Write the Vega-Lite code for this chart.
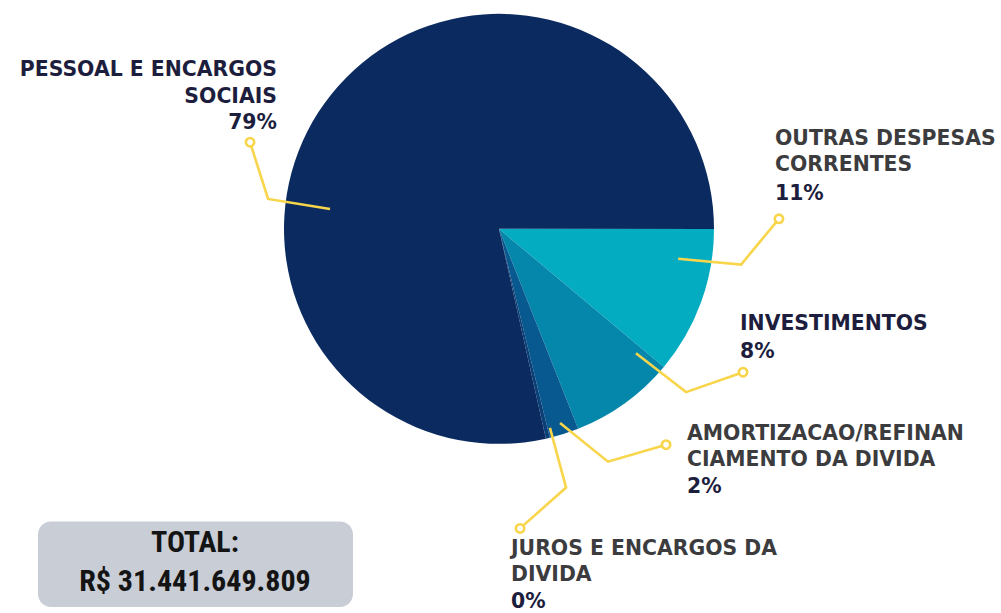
{
  "$schema": "https://vega.github.io/schema/vega-lite/v6.json",
  "width": 1001,
  "height": 613,
  "padding": 0,
  "autosize": {"type": "fit", "contains": "padding"},
  "background": "white",
  "config": {"view": {"stroke": null}},
  "datasets": {
    "slices": [
      {"categoria": "OUTRAS DESPESAS CORRENTES", "pct": 11.1, "ordem": 1, "cx": 0, "cy": 0},
      {"categoria": "INVESTIMENTOS", "pct": 7.9, "ordem": 2, "cx": 0, "cy": 0},
      {"categoria": "AMORTIZACAO/REFINANCIAMENTO DA DIVIDA", "pct": 2.2, "ordem": 3, "cx": 0, "cy": 0},
      {"categoria": "JUROS E ENCARGOS DA DIVIDA", "pct": 0.3, "ordem": 4, "cx": 0, "cy": 0},
      {"categoria": "PESSOAL E ENCARGOS SOCIAIS", "pct": 78.5, "ordem": 5, "cx": 0, "cy": 0}
    ],
    "leaders": [
      {"g": "pessoal", "s": 1, "u": -0.786, "v": 0.093},
      {"g": "pessoal", "s": 2, "u": -1.074, "v": 0.140},
      {"g": "pessoal", "s": 3, "u": -1.158, "v": 0.405},
      {"g": "outras", "s": 1, "u": 0.833, "v": -0.140},
      {"g": "outras", "s": 2, "u": 1.126, "v": -0.167},
      {"g": "outras", "s": 3, "u": 1.302, "v": 0.047},
      {"g": "invest", "s": 1, "u": 0.637, "v": -0.581},
      {"g": "invest", "s": 2, "u": 0.870, "v": -0.763},
      {"g": "invest", "s": 3, "u": 1.135, "v": -0.670},
      {"g": "amort", "s": 1, "u": 0.284, "v": -0.907},
      {"g": "amort", "s": 2, "u": 0.507, "v": -1.088},
      {"g": "amort", "s": 3, "u": 0.777, "v": -1.009},
      {"g": "juros", "s": 1, "u": 0.237, "v": -0.930},
      {"g": "juros", "s": 2, "u": 0.312, "v": -1.209},
      {"g": "juros", "s": 3, "u": 0.098, "v": -1.400}
    ],
    "labels": [
      {"t": "PESSOAL E ENCARGOS\nSOCIAIS", "u": -1.0326, "v": 0.7163, "side": "right", "tone": "navy"},
      {"t": "79%", "u": -1.0326, "v": 0.4651, "side": "right", "tone": "navy"},
      {"t": "OUTRAS DESPESAS\nCORRENTES", "u": 1.2837, "v": 0.3907, "side": "left", "tone": "gray"},
      {"t": "11%", "u": 1.2837, "v": 0.1349, "side": "left", "tone": "navy"},
      {"t": "INVESTIMENTOS", "u": 1.1209, "v": -0.4744, "side": "left", "tone": "navy"},
      {"t": "8%", "u": 1.1209, "v": -0.6047, "side": "left", "tone": "navy"},
      {"t": "AMORTIZACAO/REFINAN\nCIAMENTO DA DIVIDA", "u": 0.8744, "v": -0.9860, "side": "left", "tone": "gray"},
      {"t": "2%", "u": 0.8744, "v": -1.2326, "side": "left", "tone": "navy"},
      {"t": "JUROS E ENCARGOS DA\nDIVIDA", "u": 0.0558, "v": -1.5256, "side": "left", "tone": "gray"},
      {"t": "0%", "u": 0.0558, "v": -1.7721, "side": "left", "tone": "navy"}
    ],
    "totalbox": [
      {"u": -2.1442, "u2": -0.6791, "v": -1.3674, "v2": -1.7674}
    ],
    "totaltext": [
      {"t": "TOTAL:", "u": -1.4140, "v": -1.5116},
      {"t": "R$ 31.441.649.809", "u": -1.4140, "v": -1.6930}
    ]
  },
  "layer": [
    {
      "data": {"name": "slices"},
      "mark": {"type": "arc", "outerRadius": 215, "stroke": null},
      "encoding": {
        "x": {"field": "cx", "type": "quantitative", "scale": {"domain": [-2.32093, 2.33488], "nice": false, "zero": false}, "axis": null},
        "y": {"field": "cy", "type": "quantitative", "scale": {"domain": [-1.7814, 1.06977], "nice": false, "zero": false}, "axis": null},
        "theta": {"field": "pct", "type": "quantitative", "stack": true, "scale": {"range": [1.5708, 7.854]}},
        "order": {"field": "ordem", "type": "quantitative", "sort": "ascending"},
        "color": {
          "field": "categoria",
          "type": "nominal",
          "legend": null,
          "scale": {
            "domain": ["OUTRAS DESPESAS CORRENTES", "INVESTIMENTOS", "AMORTIZACAO/REFINANCIAMENTO DA DIVIDA", "JUROS E ENCARGOS DA DIVIDA", "PESSOAL E ENCARGOS SOCIAIS"],
            "range": ["#04acc2", "#0487ab", "#07598f", "#0a3f78", "#0b2b60"]
          }
        }
      }
    },
    {
      "data": {"name": "leaders"},
      "mark": {"type": "line", "stroke": "#f8d54a", "strokeWidth": 2.6},
      "encoding": {
        "x": {"field": "u", "type": "quantitative", "scale": {"domain": [-2.32093, 2.33488], "nice": false, "zero": false}, "axis": null},
        "y": {"field": "v", "type": "quantitative", "scale": {"domain": [-1.7814, 1.06977], "nice": false, "zero": false}, "axis": null},
        "detail": {"field": "g"},
        "order": {"field": "s", "type": "quantitative"}
      }
    },
    {
      "data": {"name": "leaders"},
      "transform": [{"filter": "datum.s == 3"}],
      "mark": {"type": "point", "shape": "circle", "filled": true, "fill": "white", "stroke": "#f8d54a", "strokeWidth": 2.6, "size": 70, "opacity": 1},
      "encoding": {
        "x": {"field": "u", "type": "quantitative", "scale": {"domain": [-2.32093, 2.33488], "nice": false, "zero": false}, "axis": null},
        "y": {"field": "v", "type": "quantitative", "scale": {"domain": [-1.7814, 1.06977], "nice": false, "zero": false}, "axis": null}
      }
    },
    {
      "data": {"name": "labels"},
      "transform": [{"filter": "datum.side == 'right'"}],
      "mark": {"type": "text", "align": "right", "baseline": "alphabetic", "font": "DejaVu Sans", "fontWeight": "bold", "fontSize": 20.4, "lineBreak": "\n", "lineHeight": 27, "fill": "#1d1e3d"},
      "encoding": {
        "x": {"field": "u", "type": "quantitative", "scale": {"domain": [-2.32093, 2.33488], "nice": false, "zero": false}, "axis": null},
        "y": {"field": "v", "type": "quantitative", "scale": {"domain": [-1.7814, 1.06977], "nice": false, "zero": false}, "axis": null},
        "text": {"field": "t"}
      }
    },
    {
      "data": {"name": "labels"},
      "transform": [{"filter": "datum.side == 'left' && datum.tone == 'navy'"}],
      "mark": {"type": "text", "align": "left", "baseline": "alphabetic", "font": "DejaVu Sans", "fontWeight": "bold", "fontSize": 20.4, "lineBreak": "\n", "lineHeight": 27, "fill": "#1d1e3d"},
      "encoding": {
        "x": {"field": "u", "type": "quantitative", "scale": {"domain": [-2.32093, 2.33488], "nice": false, "zero": false}, "axis": null},
        "y": {"field": "v", "type": "quantitative", "scale": {"domain": [-1.7814, 1.06977], "nice": false, "zero": false}, "axis": null},
        "text": {"field": "t"}
      }
    },
    {
      "data": {"name": "labels"},
      "transform": [{"filter": "datum.side == 'left' && datum.tone == 'gray'"}],
      "mark": {"type": "text", "align": "left", "baseline": "alphabetic", "font": "DejaVu Sans", "fontWeight": "bold", "fontSize": 20.4, "lineBreak": "\n", "lineHeight": 26, "fill": "#3c3c3e"},
      "encoding": {
        "x": {"field": "u", "type": "quantitative", "scale": {"domain": [-2.32093, 2.33488], "nice": false, "zero": false}, "axis": null},
        "y": {"field": "v", "type": "quantitative", "scale": {"domain": [-1.7814, 1.06977], "nice": false, "zero": false}, "axis": null},
        "text": {"field": "t"}
      }
    },
    {
      "data": {"name": "totalbox"},
      "mark": {"type": "rect", "fill": "#c8cdd6", "cornerRadius": 13},
      "encoding": {
        "x": {"field": "u", "type": "quantitative", "scale": {"domain": [-2.32093, 2.33488], "nice": false, "zero": false}, "axis": null},
        "x2": {"field": "u2"},
        "y": {"field": "v", "type": "quantitative", "scale": {"domain": [-1.7814, 1.06977], "nice": false, "zero": false}, "axis": null},
        "y2": {"field": "v2"}
      }
    },
    {
      "data": {"name": "totaltext"},
      "mark": {"type": "text", "align": "center", "baseline": "alphabetic", "font": "'Roboto Condensed', 'DejaVu Sans Condensed', sans-serif", "fontWeight": "bold", "fontSize": 30, "fill": "#141414"},
      "encoding": {
        "x": {"field": "u", "type": "quantitative", "scale": {"domain": [-2.32093, 2.33488], "nice": false, "zero": false}, "axis": null},
        "y": {"field": "v", "type": "quantitative", "scale": {"domain": [-1.7814, 1.06977], "nice": false, "zero": false}, "axis": null},
        "text": {"field": "t"}
      }
    }
  ]
}
